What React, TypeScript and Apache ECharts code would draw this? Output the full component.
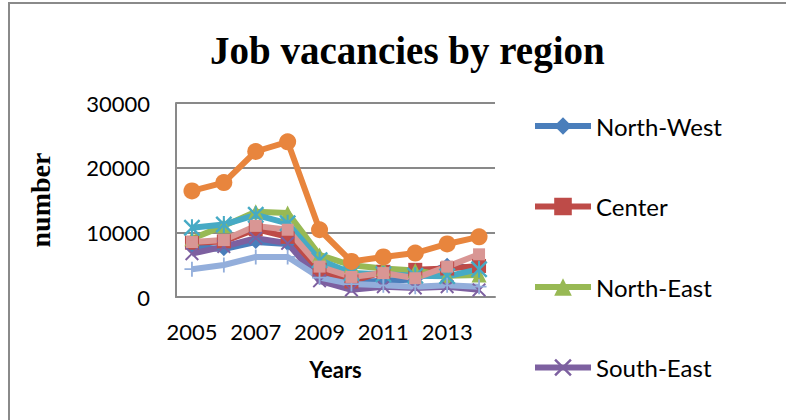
import React, { useEffect, useRef } from 'react';
import * as echarts from 'echarts';

const years = ['2005', '2006', '2007', '2008', '2009', '2010', '2011', '2012', '2013', '2014'];
const seriesNames = ['North-West', 'Center', 'North-East', 'South-East', 'South-Muntenia', 'Bucharest-Ilfov', 'South-West Oltenia', 'West'];
const northWest = [7800, 7400, 8500, 8200, 3400, 2300, 2500, 2700, 5000, 4300];
const center = [8400, 8600, 10500, 9300, 4200, 2400, 3900, 4200, 4400, 4800];
const northEast = [9000, 11000, 13200, 13000, 6500, 4900, 4400, 4100, 3300, 3400];
const southEast = [6700, 7800, 9100, 8300, 2500, 1100, 1600, 1400, 1600, 1100];
const southMuntenia = [10700, 11200, 12700, 11400, 5700, 3700, 3500, 3300, 3200, 4300];
const bucharestIlfov = [16400, 17700, 22500, 24000, 10400, 5500, 6200, 6800, 8200, 9300];
const southWestOltenia = [4300, 4950, 6200, 6200, 3000, 2000, 1800, 1600, 1800, 1600];
const west = [8500, 8800, 11000, 10400, 4700, 3100, 3700, 2900, 4700, 6600];
const legendShown = ['North-West', 'Center', 'North-East', 'South-East'];

const X_PATH = 'path://M0,1 L1,0 L5,4 L9,0 L10,1 L6,5 L10,9 L9,10 L5,6 L1,10 L0,9 L4,5 Z';
const PLUS_PATH = 'path://M4.4,0 H5.6 V4.4 H10 V5.6 H5.6 V10 H4.4 V5.6 H0 V4.4 H4.4 Z';
const STAR_PATH = 'path://M0,1 L1,0 L5,4 L9,0 L10,1 L6,5 L10,9 L9,10 L5,6 L1,10 L0,9 L4,5 Z M4.4,0 H5.6 V10 H4.4 Z';
const DASH_PATH = 'path://M0,4.3 H10 V5.7 H0 Z';

export default function App() {
  const ref = useRef<HTMLDivElement>(null);
  useEffect(() => {
    const chart = echarts.init(ref.current!, null, { renderer: 'svg' });
    const data = [northWest, center, northEast, southEast, southMuntenia, bucharestIlfov, southWestOltenia, west];
    const colors = ['#4A7EBB', '#BE4B48', '#98B954', '#7D60A0', '#46AAC5', '#E8853D', '#93AEDB', '#D99694'];
    const symbols = ['diamond', 'rect', 'triangle', X_PATH, STAR_PATH, 'circle', PLUS_PATH, DASH_PATH];
    const sizes = [14, 14, 15, 14, 17, 17, 15, 12];
    chart.setOption({
      animation: false,
      backgroundColor: '#fff',
      color: colors,
      title: {
        text: 'Job vacancies by region',
        left: 205,
        top: 26,
        textStyle: { fontFamily: 'Liberation Serif', fontWeight: 'bold', fontSize: 39, color: '#000' },
      },
      graphic: [
        {
          type: 'rect',
          shape: { x: 9, y: 3, width: 900, height: 500 },
          style: { fill: 'none', stroke: '#8a8a8a', lineWidth: 2 },
          silent: true,
        },
      ],
      legend: {
        orient: 'vertical',
        left: 527,
        top: 109,
        itemWidth: 56,
        itemHeight: 22,
        itemGap: 56.5,
        data: legendShown,
        lineStyle: { width: 6 },
        textStyle: { fontFamily: 'Lato', fontSize: 24, color: '#000', lineHeight: 24 },
      },
      grid: { left: 176, top: 103, right: 291, bottom: 123 },
      xAxis: {
        type: 'category',
        data: years,
        boundaryGap: true,
        name: 'Years',
        nameLocation: 'middle',
        nameGap: 61,
        nameTextStyle: { fontFamily: 'Lato', fontWeight: 'bold', fontSize: 22, color: '#000' },
        axisLine: { lineStyle: { color: '#898989', width: 2 } },
        axisTick: { show: false },
        axisLabel: { interval: 1, margin: 23, fontFamily: 'Lato', fontSize: 22, color: '#000' },
      },
      yAxis: {
        type: 'value',
        min: 0,
        max: 30000,
        interval: 10000,
        name: 'number',
        nameLocation: 'middle',
        nameRotate: 90,
        nameGap: 122,
        nameTextStyle: { fontFamily: 'Liberation Serif', fontWeight: 'bold', fontSize: 28, color: '#000' },
        axisLine: { show: true, lineStyle: { color: '#898989', width: 2 } },
        axisTick: { show: false },
        splitLine: { lineStyle: { color: '#898989', width: 2 } },
        axisLabel: {
          margin: 26,
          fontFamily: 'Lato',
          fontSize: 22,
          color: '#000',
          formatter: (v: number) => String(v),
        },
      },
      series: seriesNames.map((name, i) => ({
        name,
        type: 'line',
        data: data[i],
        symbol: symbols[i],
        symbolSize: sizes[i],
        showAllSymbol: true,
        lineStyle: { width: 6, color: colors[i] },
        itemStyle: { color: colors[i] },
      })),
    });
    return () => chart.dispose();
  }, []);
  return (
    <div
      ref={ref}
      style={{ position: 'fixed', left: 0, top: 0, width: 786, height: 420, background: '#fff' }}
    />
  );
}
